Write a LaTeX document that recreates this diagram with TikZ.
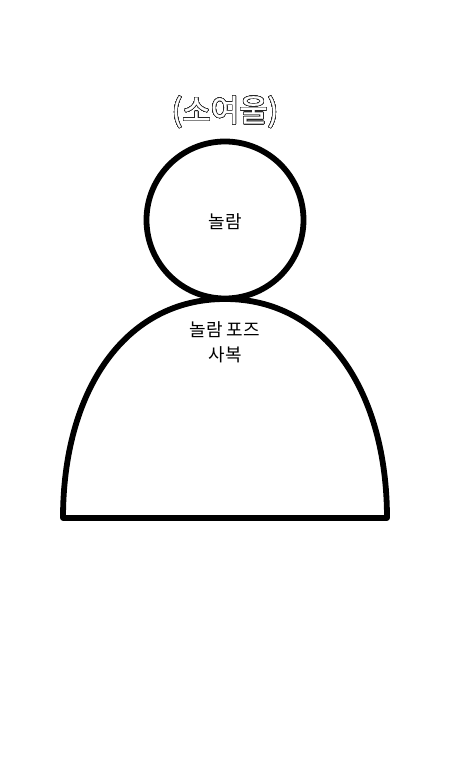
\documentclass[tikz,border=0pt]{standalone}
\usepackage{fontspec}
\usepackage{contour}
\setmainfont{Noto Sans CJK KR}
\newfontfamily\titlefont[FakeBold=0.5]{Noto Sans CJK KR}
\contournumber{32}
\begin{document}
\begin{tikzpicture}[x=1pt, y=1pt,
    every node/.style={align=center, font=\fontsize{18}{25}\selectfont},
    outline/.style={line width=5.8pt, draw=black, line join=round}
]
\useasboundingbox (0,0) rectangle (450,780);
\contourlength{0.6pt}
\node (title) at (225,668) {\fontsize{31}{34}\selectfont\titlefont\contour{black!85}{\textcolor{white}{(소여울)}}};
\node[circle, outline, minimum size=157pt] (head) at (225,560) {};
\node (face) at (225,558) {놀람};
\coordinate (bodyL) at (63,262);
\coordinate (bodyT) at (225,481);
\coordinate (bodyR) at (387,262);
\draw[outline] (bodyL) .. controls (63,388) and (124,481) .. (bodyT)
    .. controls (326,481) and (387,388) .. (bodyR) -- cycle;
\node (body) at (225,438) {놀람 포즈\\사복};
\end{tikzpicture}
\end{document}
